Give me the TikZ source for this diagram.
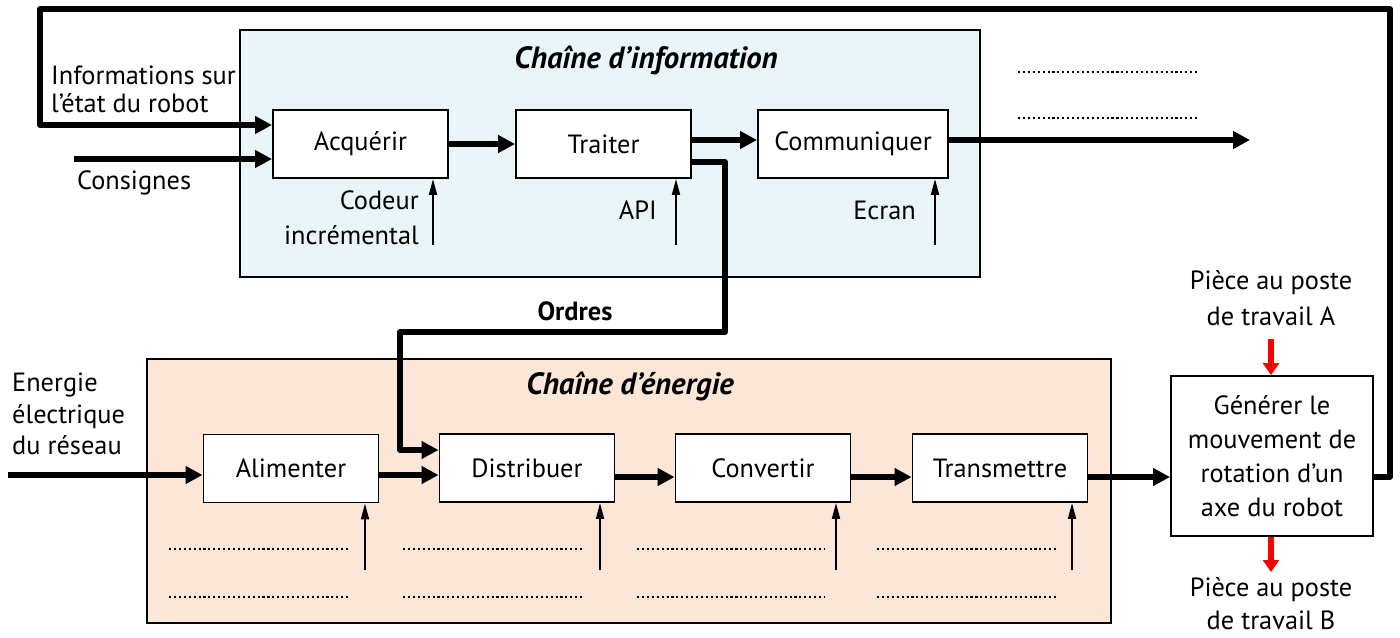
\documentclass[tikz,border=0pt]{standalone}
\usepackage{fontspec}
\setmainfont{PT Sans}
\usetikzlibrary{arrows.meta}
\definecolor{infofill}{HTML}{E9F5F8}
\definecolor{nrjfill}{HTML}{FBE6D8}

\begin{document}
\begin{tikzpicture}[x=0.02cm, y=-0.02cm,
    every node/.style={font=\fontsize{15}{18}\selectfont},
    titre/.style={font=\fontsize{17.5}{20}\selectfont\bfseries\itshape},
    bloc/.style={draw, line width=1.1pt, fill=white, minimum width=3.5cm, minimum height=1.36cm, inner sep=0pt},
    flux/.style={line width=3.3pt, line join=round, -{Triangle[length=0.34cm,width=0.34cm]}},
    fin/.style={line width=1.1pt, -{Triangle[length=0.32cm,width=0.16cm]}},
    rouge/.style={red, line width=0.13cm, -{Triangle[length=0.24cm,width=0.32cm]}},
    pointilles/.style={line width=1.2pt, dash pattern=on 1.2pt off 1.6pt}]
    \useasboundingbox (0,0) rectangle (1400,637);

    % fonds des deux chaines
    \draw[fill=infofill, line width=0.9pt] (240,30) rectangle (980,277);
    \draw[fill=nrjfill, line width=0.9pt] (147,359) rectangle (1111,623);
    \node[titre] (tinfo) at (646,60) {Chaîne d’information};
    \node[titre] (tnrj) at (630,386) {Chaîne d’énergie};

    % blocs fonctionnels
    \node[bloc] (acq) at (360.5,144) {Acquérir};
    \node[bloc] (trt) at (603.5,144) {Traiter};
    \node[bloc, minimum width=3.8cm] (com) at (853,144) {Communiquer};
    \node[bloc] (ali) at (291,468.5) {Alimenter};
    \node[bloc] (dis) at (527,468) {Distribuer};
    \node[bloc] (cnv) at (763,468) {Convertir};
    \node[bloc] (trm) at (1000,468) {Transmettre};
    \node[bloc, minimum width=4.04cm, minimum height=3.2cm, align=center,
          font=\fontsize{15}{19.3}\selectfont] (gen) at (1272,456)
          {Générer le\\mouvement de\\rotation d’un\\axe du robot};

    \def\chaine {acq/trt/144, trt/com/140, ali/dis/475, dis/cnv/477, cnv/trm/477, trm/gen/477}  % liaisons entre blocs
    \foreach \u\v\h in \chaine
    {   \draw[flux] (\u.east |- 0,\h) -- (\v.west |- 0,\h);
    }

    % entrees et sorties
    \coordinate (sortie) at (1250,140);
    \coordinate (consA) at (74,159);
    \coordinate (reseau) at (8,475);
    \draw[flux] (com.east |- 0,140) -- (sortie);
    \draw[flux] (consA) -- (acq.west |- 0,159);
    \draw[flux] (reseau) -- (ali.west |- 0,475);
    \draw[flux] (gen.east |- 0,477) -- (1390,477) -- (1390,9) -- (40,9) -- (40,125) -- (acq.west |- 0,125);
    \draw[flux] (trt.east |- 0,162) -- (725,162) -- (725,332) -- (400,332) -- (400,450) -- (dis.west |- 0,450);
    \node[font=\fontsize{15}{18}\selectfont\bfseries] (ordres) at (575,311) {Ordres};

    % fleches fines sous les blocs
    \def\dessous {acq/433/245, trt/676/245, com/935/245, ali/365/570, dis/600/570, cnv/836/570, trm/1072/570}
    \foreach \n\x\y in \dessous
    {   \coordinate (b\n) at (\x,\y);
        \draw[fin] (b\n) -- (\n.south -| b\n);
    }

    % pieces
    \coordinate (pA) at (1271,339);
    \coordinate (pB) at (1271,572);
    \draw[rouge] (pA) -- (gen.north -| pA);
    \draw[rouge] (gen.south -| pB) -- (pB);

    % textes
    \node[align=left, anchor=west, font=\fontsize{15}{16}\selectfont] (etat) at (45,89) {Informations sur\\l’état du robot};
    \node[anchor=west] (consignes) at (71,183) {Consignes};
    \node[align=right, anchor=east, font=\fontsize{15}{19.8}\selectfont] (codeur) at (425,218) {Codeur\\incrémental};
    \node[anchor=east] (api) at (663,210) {API};
    \node[anchor=east] (ecran) at (922,210) {Ecran};
    \node[align=left, anchor=west] (energie) at (6,414) {Energie\\électrique\\du réseau};
    \node[align=center, font=\fontsize{15}{20.4}\selectfont] (pieceA) at (1271,298) {Pièce au poste\\de travail A};
    \node[align=center, font=\fontsize{15}{18.7}\selectfont] (pieceB) at (1271,604) {Pièce au poste\\de travail B};

    % lignes a completer
    \foreach \a/\b in {169/351, 403/585, 637/825, 877/1059}
    {   \draw[pointilles] (\a,549) -- (\b,549);
        \draw[pointilles] (\a,597) -- (\b,597);
    }
    \draw[pointilles] (1018,72) -- (1200,72);
    \draw[pointilles] (1018,118) -- (1200,118);
\end{tikzpicture}
\end{document}
